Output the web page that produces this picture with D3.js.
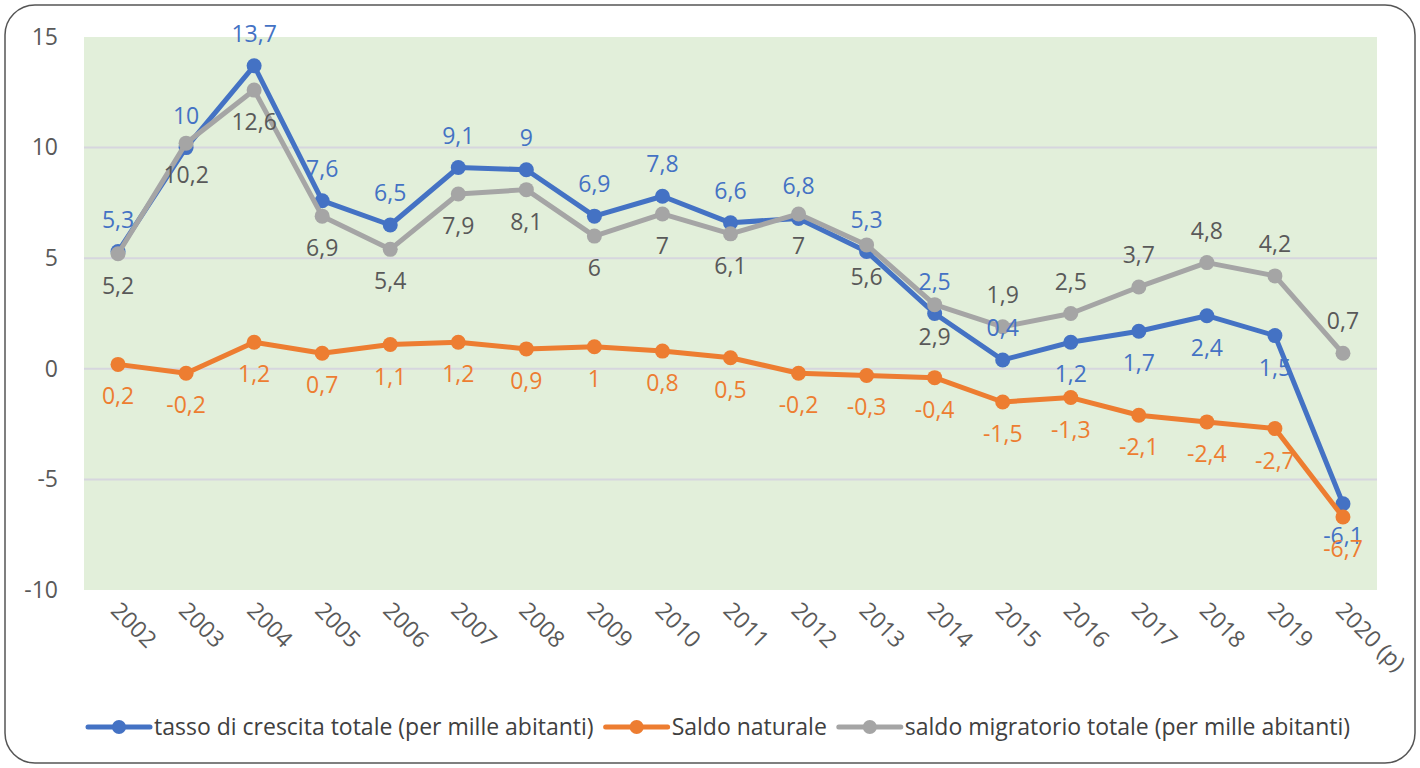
<!DOCTYPE html>
<html><head><meta charset="utf-8">
<script src="https://cdn.jsdelivr.net/npm/d3@7"></script>
<style>html,body{margin:0;padding:0;background:#fff;}svg{display:block;}</style>
</head><body>
<svg id="chart" width="1420" height="768"></svg>
<script>
const years = ["2002","2003","2004","2005","2006","2007","2008","2009","2010","2011","2012","2013","2014","2015","2016","2017","2018","2019","2020 (p)"];
const tassoCrescita = [5.3,10,13.7,7.6,6.5,9.1,9,6.9,7.8,6.6,6.8,5.3,2.5,0.4,1.2,1.7,2.4,1.5,-6.1];
const saldoNaturale = [0.2,-0.2,1.2,0.7,1.1,1.2,0.9,1,0.8,0.5,-0.2,-0.3,-0.4,-1.5,-1.3,-2.1,-2.4,-2.7,-6.7];
const saldoMigratorio = [5.2,10.2,12.6,6.9,5.4,7.9,8.1,6,7,6.1,7,5.6,2.9,1.9,2.5,3.7,4.8,4.2,0.7];
const yTicks = [-10,-5,0,5,10,15];
const seriesNames = ["tasso di crescita totale (per mille abitanti)","Saldo naturale","saldo migratorio totale (per mille abitanti)"];
// label placement: true = above the point
const tassoAbove = years.map((d,i)=> i<=13);
const naturaleAbove = years.map(()=> false);
const migratorioAbove = years.map((d,i)=> i>=13);

const FONT = "'Open Sans', sans-serif";
const FS = 23;
const svg = d3.select("#chart");
const W = 1420, H = 768;
const plot = {left:84, right:1377, top:37, bottom:590};

svg.append("rect").attr("x",5).attr("y",5).attr("width",W-10).attr("height",H-10)
  .attr("rx",30).attr("ry",30).attr("fill","#fff").attr("stroke","#555").attr("stroke-width",1.5);

const x = d3.scalePoint().domain(years).range([plot.left, plot.right]).padding(0.5);
const y = d3.scaleLinear().domain([-10,15]).range([plot.bottom, plot.top]);

svg.append("rect").attr("x",plot.left).attr("y",plot.top)
  .attr("width",plot.right-plot.left).attr("height",plot.bottom-plot.top).attr("fill","#E2EFDA");

// gridlines
svg.append("g").selectAll("line").data(yTicks.filter(t=>t>-10 && t<15)).join("line")
  .attr("x1",plot.left).attr("x2",plot.right)
  .attr("y1",d=>y(d)).attr("y2",d=>y(d))
  .attr("stroke","#D6D6DE").attr("stroke-width",2);

// y axis
const yAxis = svg.append("g").attr("transform",`translate(${plot.left},0)`)
  .call(d3.axisLeft(y).tickValues(yTicks).tickSize(0).tickPadding(26).tickFormat(d=>String(d)));
yAxis.select(".domain").remove();
yAxis.selectAll("text").attr("font-family",FONT).attr("font-size",FS).attr("fill","#595959");

// x axis
const xAxis = svg.append("g").attr("transform",`translate(0,${plot.bottom})`)
  .call(d3.axisBottom(x).tickSize(0).tickPadding(0));
xAxis.select(".domain").remove();
xAxis.selectAll("text")
  .attr("font-family",FONT).attr("font-size",FS).attr("fill","#595959")
  .attr("text-anchor","start").attr("dy",null).attr("y",null)
  .attr("transform","translate(-9,22) rotate(45)");

const series = [
  {vals:tassoCrescita, color:"#4472C4", label:"#4472C4", above:tassoAbove},
  {vals:saldoNaturale, color:"#ED7D31", label:"#ED7D31", above:naturaleAbove},
  {vals:saldoMigratorio, color:"#A5A5A5", label:"#595959", above:migratorioAbove}
];
const line = d3.line().x((d,i)=>x(years[i])).y(d=>y(d));

series.forEach(s=>{
  const g = svg.append("g");
  g.append("path").attr("d",line(s.vals)).attr("fill","none")
    .attr("stroke",s.color).attr("stroke-width",5).attr("stroke-linejoin","round").attr("stroke-linecap","round");
  g.selectAll("circle").data(s.vals).join("circle")
    .attr("cx",(d,i)=>x(years[i])).attr("cy",d=>y(d)).attr("r",7.5).attr("fill",s.color);
});

series.forEach(s=>{
  svg.append("g").selectAll("text").data(s.vals).join("text")
    .attr("x",(d,i)=>x(years[i]))
    .attr("y",(d,i)=>y(d) + (s.above[i] ? -32 : 32))
    .attr("dy","0.35em")
    .attr("text-anchor","middle")
    .attr("font-family",FONT).attr("font-size",FS).attr("fill",s.label)
    .text(d=>String(d).replace(".",","));
});

// legend
const legendY = 727;
const legend = svg.append("g");
let lx = 88;
series.forEach((s,i)=>{
  legend.append("line").attr("x1",lx).attr("x2",lx+62).attr("y1",legendY).attr("y2",legendY)
    .attr("stroke",s.color).attr("stroke-width",5).attr("stroke-linecap","round");
  legend.append("circle").attr("cx",lx+31).attr("cy",legendY).attr("r",7).attr("fill",s.color);
  const t = legend.append("text").attr("x",lx+66).attr("y",legendY).attr("dy","0.35em")
    .attr("font-family",FONT).attr("font-size",FS).attr("fill","#404040").text(seriesNames[i]);
  lx = lx + 66 + t.node().getComputedTextLength() + 12;
});
</script>
</body></html>
